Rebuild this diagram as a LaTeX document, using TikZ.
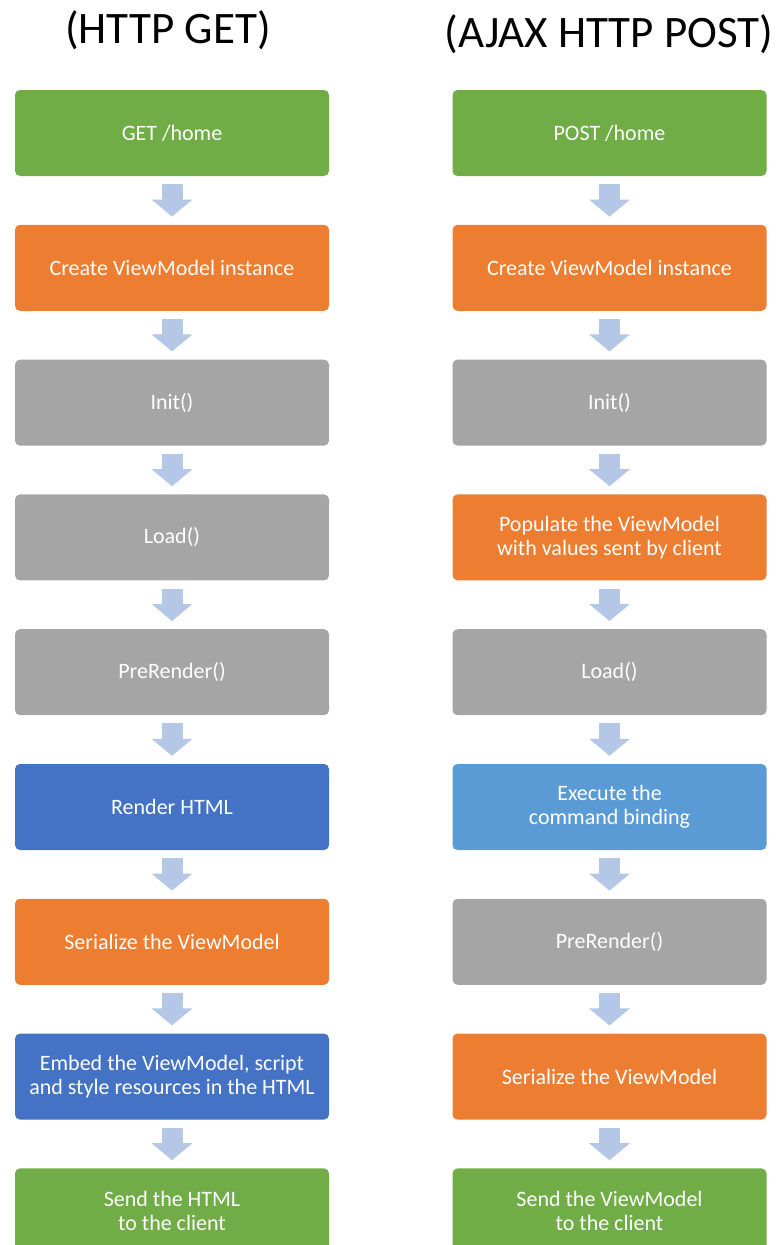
\documentclass[tikz,border=0pt]{standalone}
\usepackage{fontspec}
\setmainfont{Carlito}
\usetikzlibrary{positioning, arrows.meta}

\definecolor{getgreen}{HTML}{70AD47}
\definecolor{vmorange}{HTML}{ED7D31}
\definecolor{stagegray}{HTML}{A5A5A5}
\definecolor{renderblue}{HTML}{4472C4}
\definecolor{cmdblue}{HTML}{5B9BD5}
\definecolor{flowblue}{HTML}{B4C7E7}

\tikzset{
    stagebox/.style={rectangle, rounded corners=5pt, minimum width=314pt, minimum height=86pt,
        inner sep=0pt, align=center, text=white, font=\fontsize{22}{24}\selectfont},
    flow/.style={draw=flowblue, line width=21pt, -{Triangle[width=40pt, length=17pt]},
        shorten <=8pt, shorten >=8pt},
    heading/.style={anchor=base, font=\fontsize{45}{50}\selectfont}
}

\begin{document}
\begin{tikzpicture}[x=1pt, y=1pt, node distance=48.4pt]
    \useasboundingbox (0,0) rectangle (778,-1245);

    % HTTP GET column
    \node [heading] (gettitle) at (168,-43) {(HTTP GET)};
    \node [stagebox, fill=getgreen] (g1) at (172,-133) {GET /home};
    \node [stagebox, fill=vmorange, below=of g1] (g2) {Create ViewModel instance};
    \node [stagebox, fill=stagegray, below=of g2] (g3) {Init()};
    \node [stagebox, fill=stagegray, below=of g3] (g4) {Load()};
    \node [stagebox, fill=stagegray, below=of g4] (g5) {PreRender()};
    \node [stagebox, fill=renderblue, below=of g5] (g6) {Render HTML};
    \node [stagebox, fill=vmorange, below=of g6] (g7) {Serialize the ViewModel};
    \node [stagebox, fill=renderblue, below=of g7] (g8) {Embed the ViewModel, script\\and style resources in the HTML};
    \node [stagebox, fill=getgreen, below=of g8] (g9) {Send the HTML\\to the client};

    % AJAX HTTP POST column
    \node [heading] (posttitle) at (609,-47) {(AJAX HTTP POST)};
    \node [stagebox, fill=getgreen] (p1) at (609.5,-133) {POST /home};
    \node [stagebox, fill=vmorange, below=of p1] (p2) {Create ViewModel instance};
    \node [stagebox, fill=stagegray, below=of p2] (p3) {Init()};
    \node [stagebox, fill=vmorange, below=of p3] (p4) {Populate the ViewModel\\with values sent by client};
    \node [stagebox, fill=stagegray, below=of p4] (p5) {Load()};
    \node [stagebox, fill=cmdblue, below=of p5] (p6) {Execute the\\command binding};
    \node [stagebox, fill=stagegray, below=of p6] (p7) {PreRender()};
    \node [stagebox, fill=vmorange, below=of p7] (p8) {Serialize the ViewModel};
    \node [stagebox, fill=getgreen, below=of p8] (p9) {Send the ViewModel\\to the client};

    % block arrows between the stages
    \foreach \a/\b in {1/2, 2/3, 3/4, 4/5, 5/6, 6/7, 7/8, 8/9} {
        \draw [flow] (g\a.south) -- (g\b.north);
        \draw [flow] (p\a.south) -- (p\b.north);
    }
\end{tikzpicture}
\end{document}
